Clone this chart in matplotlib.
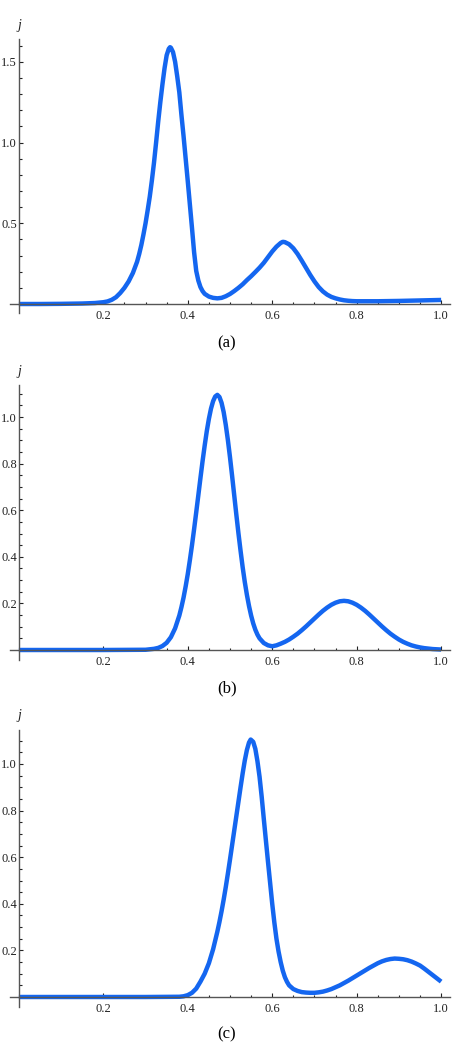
import matplotlib
matplotlib.use('Agg')
import matplotlib.pyplot as plt
import numpy as np
from matplotlib.ticker import FixedLocator, FormatStrFormatter

plt.rcParams['font.family'] = ['Liberation Serif', 'DejaVu Serif']

# curve (a)
xa = [0.00, 0.05, 0.10, 0.15, 0.18, 0.20, 0.21, 0.22, 0.23, 0.24, 0.25, 0.26, 0.27, 0.28,
      0.285, 0.29, 0.295, 0.30, 0.305, 0.31, 0.315, 0.32, 0.325, 0.33, 0.335, 0.34, 0.345,
      0.35, 0.355, 0.358, 0.36, 0.365, 0.37, 0.375, 0.38, 0.385, 0.39, 0.395, 0.40, 0.405,
      0.41, 0.415, 0.42, 0.425, 0.43, 0.435, 0.44, 0.45, 0.46, 0.47, 0.48, 0.49, 0.50,
      0.51, 0.52, 0.53, 0.54, 0.55, 0.56, 0.57, 0.58, 0.59, 0.60, 0.61, 0.62, 0.625, 0.63,
      0.64, 0.65, 0.66, 0.67, 0.68, 0.69, 0.70, 0.71, 0.72, 0.73, 0.74, 0.75, 0.76, 0.77,
      0.78, 0.79, 0.80, 0.85, 0.90, 0.95, 1.00]
ja = [0.000, 0.000, 0.001, 0.003, 0.006, 0.011, 0.016, 0.026, 0.042, 0.068, 0.100, 0.140,
      0.192, 0.262, 0.310, 0.365, 0.430, 0.500, 0.580, 0.665, 0.765, 0.875, 1.000, 1.130,
      1.250, 1.360, 1.460, 1.540, 1.580, 1.590, 1.587, 1.560, 1.500, 1.410, 1.310, 1.170,
      1.040, 0.900, 0.760, 0.615, 0.470, 0.320, 0.205, 0.145, 0.105, 0.080, 0.063, 0.046,
      0.038, 0.035, 0.038, 0.048, 0.062, 0.080, 0.100, 0.122, 0.148, 0.172, 0.198, 0.225,
      0.255, 0.290, 0.325, 0.355, 0.378, 0.385, 0.383, 0.370, 0.345, 0.310, 0.268, 0.224,
      0.180, 0.140, 0.105, 0.078, 0.058, 0.044, 0.035, 0.028, 0.023, 0.020, 0.018, 0.017,
      0.017, 0.019, 0.022, 0.025]

# curve (b)
xb = [0.00, 0.20, 0.30, 0.32, 0.33, 0.34, 0.35, 0.36, 0.37, 0.38, 0.385, 0.39, 0.395,
      0.40, 0.405, 0.41, 0.415, 0.42, 0.425, 0.43, 0.435, 0.44, 0.445, 0.45, 0.455, 0.46,
      0.465, 0.47, 0.475, 0.48, 0.485, 0.49, 0.495, 0.50, 0.505, 0.51, 0.515, 0.52, 0.525,
      0.53, 0.535, 0.54, 0.545, 0.55, 0.555, 0.56, 0.565, 0.57, 0.58, 0.59, 0.60, 0.61,
      0.62, 0.63, 0.64, 0.65, 0.66, 0.67, 0.68, 0.69, 0.70, 0.71, 0.72, 0.73, 0.74, 0.75,
      0.76, 0.77, 0.78, 0.79, 0.80, 0.81, 0.82, 0.83, 0.84, 0.85, 0.86, 0.87, 0.88, 0.89,
      0.90, 0.91, 0.92, 0.93, 0.94, 0.95, 0.96, 0.97, 0.98, 0.99, 1.00]
jb = [0.000, 0.000, 0.001, 0.005, 0.009, 0.017, 0.031, 0.055, 0.093, 0.148, 0.184, 0.225,
      0.273, 0.326, 0.386, 0.450, 0.519, 0.591, 0.664, 0.738, 0.810, 0.877, 0.939, 0.992,
      1.036, 1.068, 1.088, 1.095, 1.086, 1.061, 1.021, 0.966, 0.901, 0.827, 0.747, 0.664,
      0.581, 0.501, 0.426, 0.355, 0.292, 0.237, 0.189, 0.148, 0.114, 0.087, 0.066, 0.050,
      0.030, 0.020, 0.016, 0.020, 0.027, 0.035, 0.045, 0.057, 0.070, 0.085, 0.101, 0.118,
      0.135, 0.152, 0.168, 0.182, 0.194, 0.203, 0.209, 0.211, 0.209, 0.203, 0.194, 0.182,
      0.168, 0.152, 0.135, 0.118, 0.101, 0.085, 0.070, 0.057, 0.045, 0.035, 0.027, 0.020,
      0.015, 0.011, 0.008, 0.006, 0.004, 0.003, 0.002]

# curve (c)
xc = [0.00, 0.30, 0.38, 0.39, 0.40, 0.41, 0.42, 0.43, 0.44, 0.45, 0.46, 0.47, 0.475, 0.48,
      0.485, 0.49, 0.495, 0.50, 0.505, 0.51, 0.515, 0.52, 0.525, 0.53, 0.535, 0.54, 0.545,
      0.549, 0.555, 0.56, 0.565, 0.57, 0.575, 0.58, 0.585, 0.59, 0.595, 0.60, 0.605, 0.61,
      0.615, 0.62, 0.625, 0.63, 0.635, 0.64, 0.65, 0.66, 0.67, 0.68, 0.69, 0.70, 0.71, 0.72,
      0.73, 0.74, 0.75, 0.76, 0.77, 0.78, 0.79, 0.80, 0.81, 0.82, 0.83, 0.84, 0.85, 0.86,
      0.87, 0.88, 0.89, 0.90, 0.91, 0.92, 0.93, 0.94, 0.95, 0.96, 0.97, 0.98, 0.99, 1.00]
jc = [0.000, 0.000, 0.001, 0.003, 0.008, 0.018, 0.036, 0.066, 0.100, 0.145, 0.205, 0.280,
      0.322, 0.368, 0.418, 0.472, 0.530, 0.590, 0.652, 0.714, 0.776, 0.838, 0.900, 0.960,
      1.015, 1.060, 1.092, 1.105, 1.095, 1.065, 1.012, 0.945, 0.860, 0.765, 0.672, 0.580,
      0.490, 0.400, 0.320, 0.250, 0.195, 0.150, 0.113, 0.085, 0.065, 0.050, 0.034, 0.026,
      0.021, 0.019, 0.018, 0.018, 0.020, 0.023, 0.028, 0.034, 0.042, 0.050, 0.060, 0.070,
      0.081, 0.092, 0.103, 0.114, 0.125, 0.135, 0.145, 0.153, 0.159, 0.163, 0.165, 0.164,
      0.162, 0.158, 0.152, 0.144, 0.135, 0.122, 0.108, 0.094, 0.080, 0.066]

captions = ['(a)', '(b)', '(c)']

W, H = 456, 1046
fig = plt.figure(figsize=(W / 100, H / 100), dpi=100)

XL, XR = 10, 450
XMIN, XMAX = -0.021, 1.021
BLUE = '#1466f0'
AXC = '#555555'


def panel(x, y, top_px, zero_px, bot_px, ppu, y_major, y_minor, cap, cap_y, j_y):
    ymin = -(bot_px - zero_px) / ppu
    ymax = (zero_px - top_px) / ppu
    ax = fig.add_axes([XL / W, 1 - bot_px / H, (XR - XL) / W, (bot_px - top_px) / H])
    ax.plot(x, y, color=BLUE, lw=3.2, solid_capstyle='butt', solid_joinstyle='round',
            zorder=2)
    ax.set_xlim(XMIN, XMAX)
    ax.set_ylim(ymin, ymax)
    for s in ['top', 'right']:
        ax.spines[s].set_visible(False)
    for s in ['left', 'bottom']:
        ax.spines[s].set_position(('data', 0))
        ax.spines[s].set_color(AXC)
        ax.spines[s].set_linewidth(1.0)
    ax.xaxis.set_major_locator(FixedLocator([0.2, 0.4, 0.6, 0.8, 1.0]))
    ax.xaxis.set_minor_locator(FixedLocator(np.arange(0.05, 1.0, 0.05)))
    ax.yaxis.set_major_locator(FixedLocator(y_major))
    ax.yaxis.set_minor_locator(FixedLocator(y_minor))
    ax.xaxis.set_major_formatter(FormatStrFormatter('%.1f'))
    ax.yaxis.set_major_formatter(FormatStrFormatter('%.1f'))
    ax.tick_params(which='both', direction='in', color='#222222', width=0.8,
                   labelsize=9, labelcolor='#222222')
    ax.tick_params(which='major', length=3.0)
    ax.tick_params(which='minor', length=1.8)
    ax.tick_params(axis='x', pad=4)
    ax.tick_params(axis='y', pad=1.5)
    ax.patch.set_alpha(0)
    fig.text(19.5 / W, 1 - j_y / H, 'j', style='italic', fontsize=10,
             ha='center', va='center', color='#222222')
    fig.text(227 / W, 1 - cap_y / H, cap, fontsize=12, ha='center', va='center')
    return ax


panel(xa, ja, 39, 304, 313, 161.5, [0.5, 1.0, 1.5],
      [0.1, 0.2, 0.3, 0.4, 0.6, 0.7, 0.8, 0.9, 1.1, 1.2, 1.3, 1.4, 1.6],
      captions[0], 343, 25)
panel(xb, jb, 385, 650, 660, 233, [0.2, 0.4, 0.6, 0.8, 1.0],
      [0.05, 0.1, 0.15, 0.25, 0.3, 0.35, 0.45, 0.5, 0.55, 0.65, 0.7, 0.75,
       0.85, 0.9, 0.95, 1.05, 1.1],
      captions[1], 688, 372)
panel(xc, jc, 730, 997, 1007, 233, [0.2, 0.4, 0.6, 0.8, 1.0],
      [0.05, 0.1, 0.15, 0.25, 0.3, 0.35, 0.45, 0.5, 0.55, 0.65, 0.7, 0.75,
       0.85, 0.9, 0.95, 1.05, 1.1],
      captions[2], 1034, 716)

fig.savefig('out.png', dpi=100)
